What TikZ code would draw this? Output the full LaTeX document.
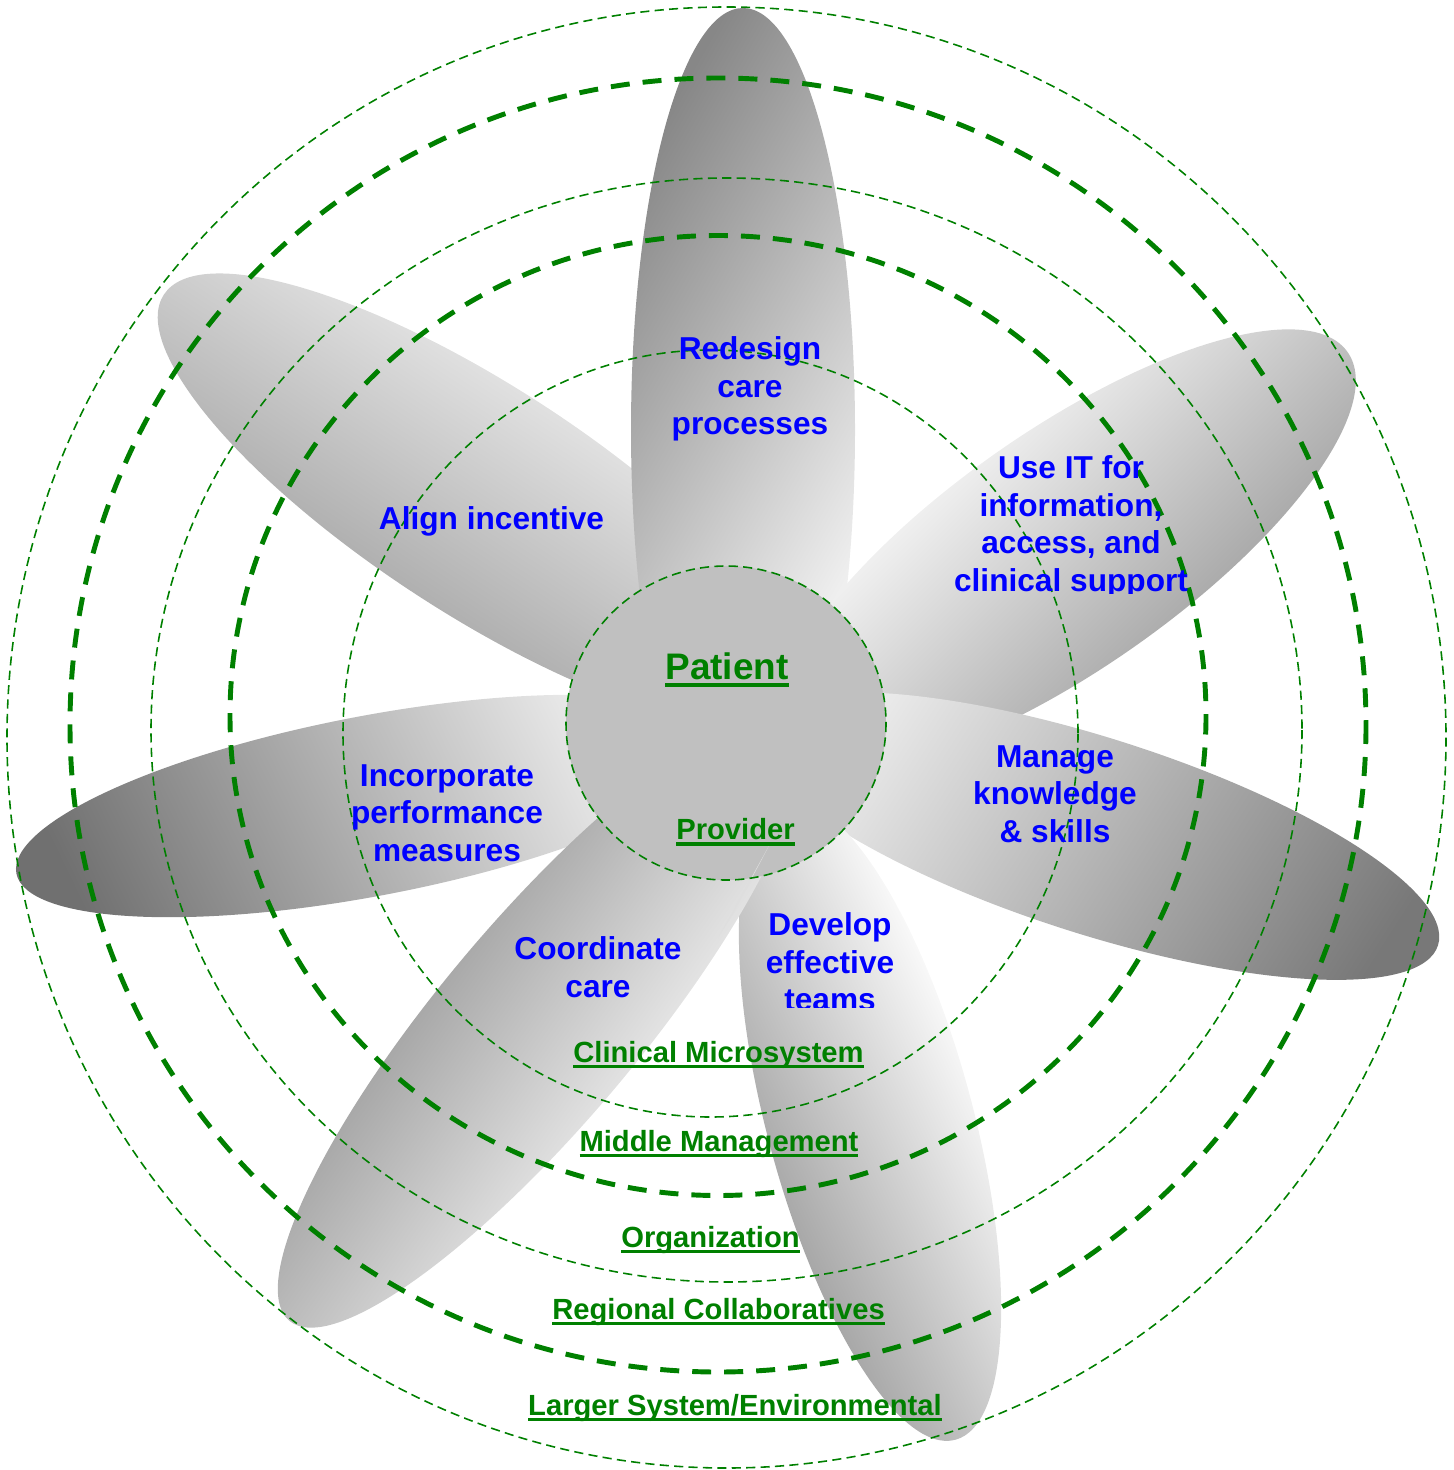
\documentclass[tikz,border=0pt]{standalone}
\usepackage{fontspec}
\setmainfont{Liberation Sans}
\definecolor{ring}{RGB}{0,128,0}
\definecolor{lbl}{RGB}{0,0,255}
\definecolor{hub}{RGB}{192,192,192}
\definecolor{sliver}{RGB}{222,222,222}
% underline at a fixed depth below the baseline
\newcommand\ulx[1]{\setbox0=\hbox{#1}\rlap{\rule[-0.22em]{\wd0}{0.12em}}\box0}
% petal: centre x, centre y, direction of the outer tip, semi-major, semi-minor,
% top colour, bottom colour, shading angle (both measured in the petal's own frame)
\newcommand\petal[8]{%
  \begin{scope}[transform canvas={shift={(#1,#2)},rotate=#3}]
    \shade[top color=#6,bottom color=#7,shading angle=#8] (0,0) ellipse [x radius=#4, y radius=#5];
  \end{scope}}
\begin{document}
\begin{tikzpicture}[x=0.01cm,y=-0.01cm,
  ring thin/.style={draw=ring, line width=0.45pt, dash pattern=on 2.6pt off 1.5pt},
  ring thick/.style={draw=ring, line width=1.4pt, dash pattern=on 5.4pt off 3.7pt},
  theme/.style={text=lbl, font=\fontsize{9}{10.67}\selectfont\bfseries, align=center, inner sep=0pt},
  level/.style={text=ring, font=\fontsize{8.3}{10}\selectfont\bfseries, inner sep=0pt, anchor=base},
]
\useasboundingbox (0,0) rectangle (1453,1470);

% the seven petals, back to front
\petal{480}{500}{147}{377}{114}{black!31}{black!12}{0}
\petal{370}{806}{190.8}{360}{90}{black!2}{black!56}{105}
\petal{743}{430}{90}{422}{112}{black!47}{white}{-30}
\petal{1065}{550}{35}{345}{119}{black!4}{black!35}{10}
\petal{1095}{836}{-17.7}{360}{98}{black!4}{black!53}{75}
\petal{870}{1121}{-75}{330}{103}{white}{black!37}{10}
\petal{540}{1022}{230}{390}{100}{black!9}{black!36}{5}

% hub
\fill[hub] (726,723) ellipse [x radius=160, y radius=157];
\fill[sliver] (771,842) -- (718,938) -- (734,912) -- cycle;

% concentric levels
\draw[ring thin]  (726,723)   ellipse [x radius=160,   y radius=157];
\draw[ring thin]  (710.5,733.5) ellipse [x radius=367.5, y radius=383.5];
\draw[ring thick] (718,715.5) ellipse [x radius=488,   y radius=480];
\draw[ring thin]  (726.5,730) ellipse [x radius=575.5, y radius=552];
\draw[ring thick] (718,725)   ellipse [x radius=648,   y radius=647];
\draw[ring thin]  (726.5,737.5) ellipse [x radius=719.5, y radius=730.5];

% petal themes
\node[theme] (redesign) at (750,389) {Redesign\\care\\processes};
\begin{scope}
  \clip (850,400) rectangle (1300,593);
  \node[theme] (useit) at (1071,527) {Use IT for\\information,\\access, and\\clinical support};
\end{scope}
\node[theme] (align) at (491.5,521) {Align incentive};
\node[theme] (manage) at (1055,794) {Manage\\knowledge\\\& skills};
\node[theme] (incorp) at (447,813) {Incorporate\\performance\\measures};
\begin{scope}
  \clip (700,880) rectangle (960,1007);
  \node[theme] (develop) at (830,962) {Develop\\effective\\teams};
\end{scope}
\node[theme] (coord) at (598,967) {Coordinate\\care};

% level labels
\node[level, font=\fontsize{10.5}{12}\selectfont\bfseries] (patient) at (727,679) {\ulx{Patient}};
\node[level] (provider) at (735.5,839.5) {\ulx{Provider}};
\node[level] (micro) at (718.5,1062) {\ulx{Clinical Microsystem}};
\node[level] (middle) at (719,1151) {\ulx{Middle Management}};
\node[level] (org) at (710.5,1247) {\ulx{Organization}};
\node[level] (region) at (718.5,1319) {\ulx{Regional Collaboratives}};
\node[level] (larger) at (735,1415) {\ulx{Larger System/Environmental}};
\end{tikzpicture}
\end{document}
